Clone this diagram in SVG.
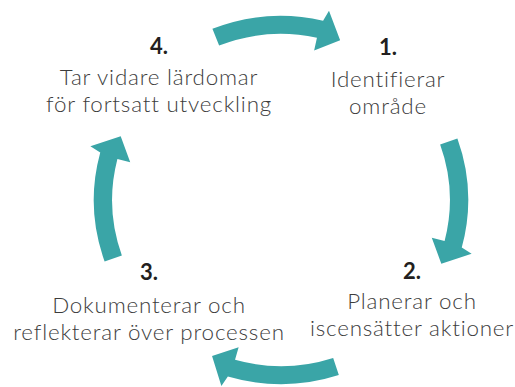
<svg xmlns="http://www.w3.org/2000/svg" xmlns:xlink="http://www.w3.org/1999/xlink" width="515" height="387" viewBox="0 0 515 387">
<style>
.arrow{fill:#3aa5a7}
.num{font-family:Lato,"Open Sans","Liberation Sans",sans-serif;font-weight:700;font-size:22px;fill:#231f20;text-anchor:middle}
.lbl{font-family:Lato,"Open Sans","Liberation Sans",sans-serif;font-weight:300;font-size:22.4px;letter-spacing:0.8px;fill:#3c3c3c;text-anchor:middle}
</style>
<defs>
<path id="arr" d="M -64.44,-172.35 A 184 184 0 0 1 44.51,-178.54 L 50.47,-188.35 L 60.93,-158.71 L 35.19,-148.90 L 38.18,-161.55 A 166 166 0 0 0 -58.13,-155.49 Z"/>
</defs>
<rect width="515" height="387" fill="#ffffff"/>
<g id="connectors">
<use xlink:href="#arr" class="arrow" transform="translate(281,200) scale(1.017,1) rotate(-1)"/>
<use xlink:href="#arr" class="arrow" transform="translate(281,200) scale(1.017,1) rotate(91)"/>
<use xlink:href="#arr" class="arrow" transform="translate(281,200) scale(1.017,1) rotate(182.5)"/>
<use xlink:href="#arr" class="arrow" transform="translate(281,200) scale(1.017,1) rotate(271)"/>
</g>
<g id="node1">
<text class="num" x="388" y="55">1.</text>
<text class="lbl" x="388" y="86.5">Identifierar</text>
<text class="lbl" x="388" y="113.5">område</text>
</g>
<g id="node2">
<text class="num" x="412" y="279">2.</text>
<text class="lbl" x="412" y="308.5">Planerar och</text>
<text class="lbl" x="412" y="335.5">iscensätter aktioner</text>
</g>
<g id="node3">
<text class="num" x="149" y="280">3.</text>
<text class="lbl" x="149" y="313">Dokumenterar och</text>
<text class="lbl" x="149" y="340">reflekterar över processen</text>
</g>
<g id="node4">
<text class="num" x="159" y="54">4.</text>
<text class="lbl" x="159" y="85">Tar vidare lärdomar</text>
<text class="lbl" x="159" y="112">för fortsatt utveckling</text>
</g>
</svg>
